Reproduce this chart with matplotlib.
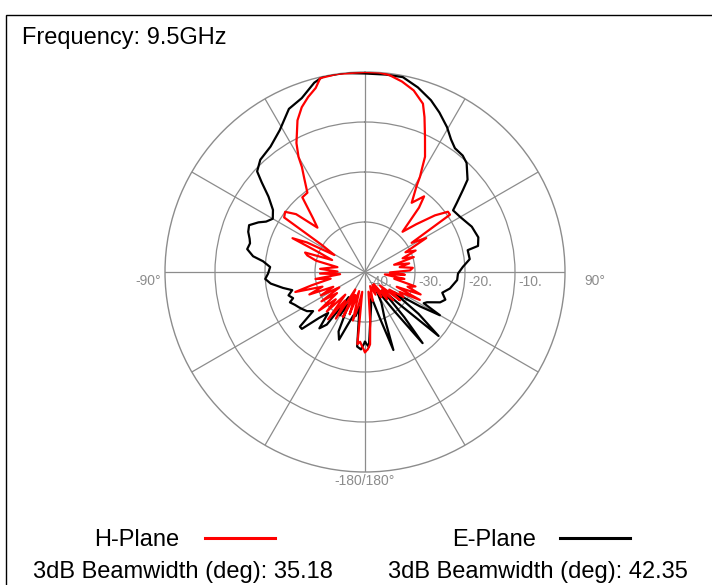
import numpy as np
import matplotlib
matplotlib.use("Agg")
import matplotlib.pyplot as plt
from matplotlib.patches import Rectangle
from matplotlib.transforms import offset_copy

plt.rcParams['font.family'] = ['Liberation Sans', 'DejaVu Sans']

# ---------------- data (angle in degrees clockwise from top, level in dB) ----------------
h_angles = [-180, -178, -176, -174, -172, -169, -166, -163, -160, -157, -154, -151, -148, -145,
            -142, -139, -136, -133, -130, -127, -124, -121, -118, -115, -112, -109, -106, -104,
            -101, -98, -95, -92, -89, -86, -83, -80, -77, -74, -72, -70, -67, -65, -63, -61,
            -58, -56, -53, -50, -47, -44, -40, -36, -33, -31, -30, -28, -24, -21, -18, -15,
            -13, -8, 0, 4, 7, 11, 15, 19, 21, 24, 27.5, 29, 30, 31, 34, 38, 40, 43, 47, 51,
            54, 56, 58, 61, 64, 67, 70, 73, 76, 79, 82, 85, 88, 91, 94, 97, 100, 103, 106,
            109, 112, 115, 117, 120, 123, 126, 129, 132, 135, 138, 141, 144, 147, 150, 155,
            160, 165, 170, 174, 176, 178, 180]
h_db = [-24, -25, -26, -25.5, -36, -33, -30, -36, -31, -35, -30, -36, -29, -33,
        -28, -34, -29, -32, -28, -33, -29.5, -34, -30, -33, -28, -31, -25.5, -29,
        -33, -30, -35, -31, -34.5, -31, -33, -34.4, -30, -28, -27.4, -33, -30, -24, -27, -33,
        -30, -20.5, -20, -22, -27, -25, -20.5, -20.4, -17.7, -15.5, -13.4, -10.8, -6.8, -4.7, -3.2, -1.9,
        -0.2, 0, 0, 0, -0.3, -1.2, -2.4, -4.4, -6.8, -10.5, -14, -16.6, -18, -20, -23.3, -20.8, -23.2, -29, -26, -22,
        -19.5, -19.5, -29, -26, -31, -29, -32, -29.8, -34, -31, -33, -30.4, -31, -35, -32, -36, -32, -34, -29.5,
        -31, -28, -33, -27.7, -32, -30.8, -34, -31, -36, -32, -35, -33, -37, -34, -37, -35,
        -37, -34, -36, -30, -25.5, -24.5, -24]

e_angles = [-180, -177, -174, -171, -168, -165, -162, -159, -156, -153, -150, -147, -144, -141,
            -138, -135, -132, -130, -127, -124, -121, -118, -115, -112, -110, -107, -104, -101,
            -97, -94, -91, -87, -84, -82, -79, -76, -74, -71, -68, -65, -63, -60, -56, -52,
            -49, -47, -43, -37, -31, -25, -20, -15, -12, -6, 0, 6, 11, 16, 21, 25, 29.5, 33,
            36, 40, 43, 48, 50, 53, 55, 60, 67, 73, 77, 78, 83, 87, 91, 95, 101, 105, 109,
            112, 116, 118, 120, 122, 125, 128, 131, 133, 136, 139, 141, 143, 147, 152, 157,
            160, 162, 166, 170, 174, 177, 180]
e_db = [-26, -24.5, -25, -33, -31, -31, -29, -25.5, -27, -33, -30, -34, -27, -25.5,
        -29, -27, -23, -23, -27, -26, -25.5, -25, -24.5, -23.8, -24.7, -24, -25, -23.3,
        -21, -20, -20.6, -21, -19.5, -17.4, -16, -16.3, -16, -15.3, -15, -16.5, -17.8, -18.7, -17.8, -15.5,
        -12.6, -10.5, -9.3, -8.6, -6.9, -4, -3, -0.8, 0, 0, -0.3, -0.3, -0.3, -1.6, -3.2, -4.8, -6.7, -8.4,
        -9.4, -9.6, -10.2, -12.4, -14.4, -17, -18.5, -18, -16.8, -16.3, -16.8, -19, -18.9, -20.4, -21.4, -21.5, -22.7, -24, -23,
        -23.8, -26.2, -26.7, -22.7, -27, -33, -26.4, -20.5, -30, -35, -28, -21.7, -30, -36, -33, -30,
        -23.4, -30, -35, -33, -30, -25, -26]

ring_levels = [-40, -30, -20, -10]
angle_labels = ["-90°", "90°", "-180/180°"]
freq_text = "Frequency: 9.5GHz"
series_names = ["H-Plane", "E-Plane"]
beamwidths = [35.18, 42.35]

W, H = 712, 585
fig = plt.figure(figsize=(W / 100, H / 100), dpi=100)


def fx(x):
    return x / W


def fy(y):
    return 1 - y / H


# frame
fig.add_artist(Rectangle((fx(6), fy(700)), 2.0, fy(15) - fy(700), transform=fig.transFigure,
                         fill=False, edgecolor='black', linewidth=1.0))

cx, cy, R = 365, 272, 200
ax = fig.add_axes([fx(cx - R), fy(cy + R), 2 * R / W, 2 * R / H], projection='polar')
ax.set_theta_zero_location('N')
ax.set_theta_direction(-1)
ax.set_ylim(-40, 0)
grey = '#8c8c8c'
ax.set_thetagrids(np.arange(0, 360, 30), labels=[''] * 12)
ax.set_rgrids([-30, -20, -10], labels=['', '', ''])
ax.grid(True, color=grey, linewidth=0.9)
ax.spines['polar'].set_color(grey)
ax.spines['polar'].set_linewidth(1.0)
ax.tick_params(length=0)
ax.set_facecolor('none')

ax.plot(np.deg2rad(e_angles), e_db, color='black', linewidth=1.6, zorder=4)
ax.plot(np.deg2rad(h_angles), h_db, color='#ff0000', linewidth=1.6, zorder=5)

# ring labels along 90 deg direction
for lv in ring_levels:
    tr = offset_copy(ax.transData, fig=fig, x=3, y=-3, units='dots')
    ax.text(np.deg2rad(90), lv, f"{lv}.", transform=tr, ha='left', va='top',
            fontsize=10, color=grey, zorder=2)

# angle labels
tr = offset_copy(ax.transData, fig=fig, x=-4, y=-9, units='dots')
ax.text(np.deg2rad(-90), 0, angle_labels[0], transform=tr, ha='right', va='center',
        fontsize=10, color=grey, clip_on=False)
tr = offset_copy(ax.transData, fig=fig, x=19, y=-9, units='dots')
ax.text(np.deg2rad(90), 0, angle_labels[1], transform=tr, ha='left', va='center',
        fontsize=10, color=grey, clip_on=False)
tr = offset_copy(ax.transData, fig=fig, x=0, y=-2, units='dots')
ax.text(np.deg2rad(180), 0, angle_labels[2], transform=tr, ha='center', va='top',
        fontsize=10, color=grey, clip_on=False)

fig.text(fx(22), fy(44), freq_text, fontsize=17, ha='left', va='baseline')

# legend / summary
fig.text(fx(94), fy(546), series_names[0], fontsize=17, ha='left', va='baseline')
fig.text(fx(452), fy(546), series_names[1], fontsize=17, ha='left', va='baseline')
fig.add_artist(plt.Line2D([fx(205), fx(275)], [fy(538), fy(538)], color='#ff0000', linewidth=2.2,
                          transform=fig.transFigure))
fig.add_artist(plt.Line2D([fx(560), fx(630)], [fy(538), fy(538)], color='black', linewidth=2.2,
                          transform=fig.transFigure))
fig.text(fx(33), fy(578), f"3dB Beamwidth (deg): {beamwidths[0]:.2f}", fontsize=17, ha='left', va='baseline')
fig.text(fx(388), fy(578), f"3dB Beamwidth (deg): {beamwidths[1]:.2f}", fontsize=17, ha='left', va='baseline')

fig.savefig('out.png', dpi=100, facecolor='white')
